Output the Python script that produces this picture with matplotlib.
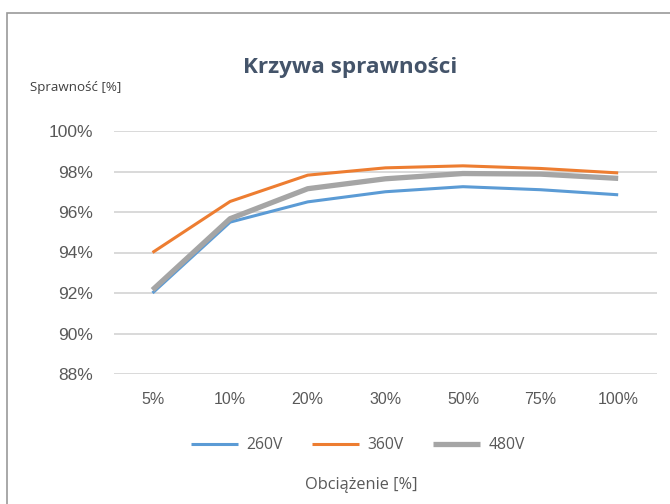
import matplotlib
matplotlib.use("Agg")
from matplotlib import pyplot as plt
from matplotlib.patches import Rectangle

loads = ['5%', '10%', '20%', '30%', '50%', '75%', '100%']
eff_260 = [92.0, 95.5, 96.5, 97.0, 97.25, 97.1, 96.85]
eff_360 = [94.0, 96.52, 97.82, 98.18, 98.28, 98.15, 97.93]
eff_480 = [92.15, 95.67, 97.15, 97.64, 97.9, 97.87, 97.66]
yticks = [88, 90, 92, 94, 96, 98, 100]

W, H = 670, 504
fig = plt.figure(figsize=(W / 100, H / 100), dpi=100)

# outer frame of the chart area (cut off on right and bottom)
fig.patches.append(Rectangle((7 / W, -0.1), 1.2, 1 - 13 / H + 0.1, transform=fig.transFigure,
                             fill=False, edgecolor='#9a9a9a', linewidth=1.2))

ax = fig.add_axes([113.7 / W, 1 - 374 / H, (657 - 113.7) / W, (374 - 131) / H])
x = list(range(len(loads)))
ax.plot(x, eff_260, color='#5B9BD5', linewidth=2.2, label='260V', solid_capstyle='butt')
ax.plot(x, eff_360, color='#ED7D31', linewidth=2.2, label='360V', solid_capstyle='butt')
ax.plot(x, eff_480, color='#A5A5A5', linewidth=3.8, label='480V', solid_capstyle='butt')

ax.set_xlim(-0.5, len(loads) - 0.5)
ax.set_ylim(88, 100)
ax.set_yticks(yticks)
ax.set_yticklabels([f'{v}%' for v in yticks], fontsize=12.5, color='#595959', family='Liberation Sans')
ax.set_xticks(x)
ax.set_xticklabels(loads, fontsize=11.5, color='#595959', family='Liberation Sans')
ax.tick_params(length=0)
ax.tick_params(axis='y', pad=15)
ax.tick_params(axis='x', pad=13)
ax.grid(axis='y', color='#D9D9D9', linewidth=1.4)
ax.set_axisbelow(True)
for s in ax.spines.values():
    s.set_visible(False)

fig.text(350 / W, 1 - 68 / H, 'Krzywa sprawności', ha='center', va='center',
         fontsize=16.2, fontweight='bold', color='#44546A', family='Open Sans')
fig.text(30 / W, 1 - 87 / H, 'Sprawność [%]', ha='left', va='center',
         fontsize=9.6, color='#404040', family='Open Sans')
fig.text(361 / W, 1 - 485 / H, 'Obciążenie [%]', ha='center', va='center',
         fontsize=11.8, color='#595959', family='Open Sans')

fig.legend(loc='center', bbox_to_anchor=(358 / W, 1 - 445 / H), ncol=3, frameon=False,
           handlelength=3.0, columnspacing=1.9, handletextpad=0.5,
           labelcolor='#595959', prop={'family': 'Open Sans', 'size': 11.3})

fig.savefig('out.png', dpi=100)
